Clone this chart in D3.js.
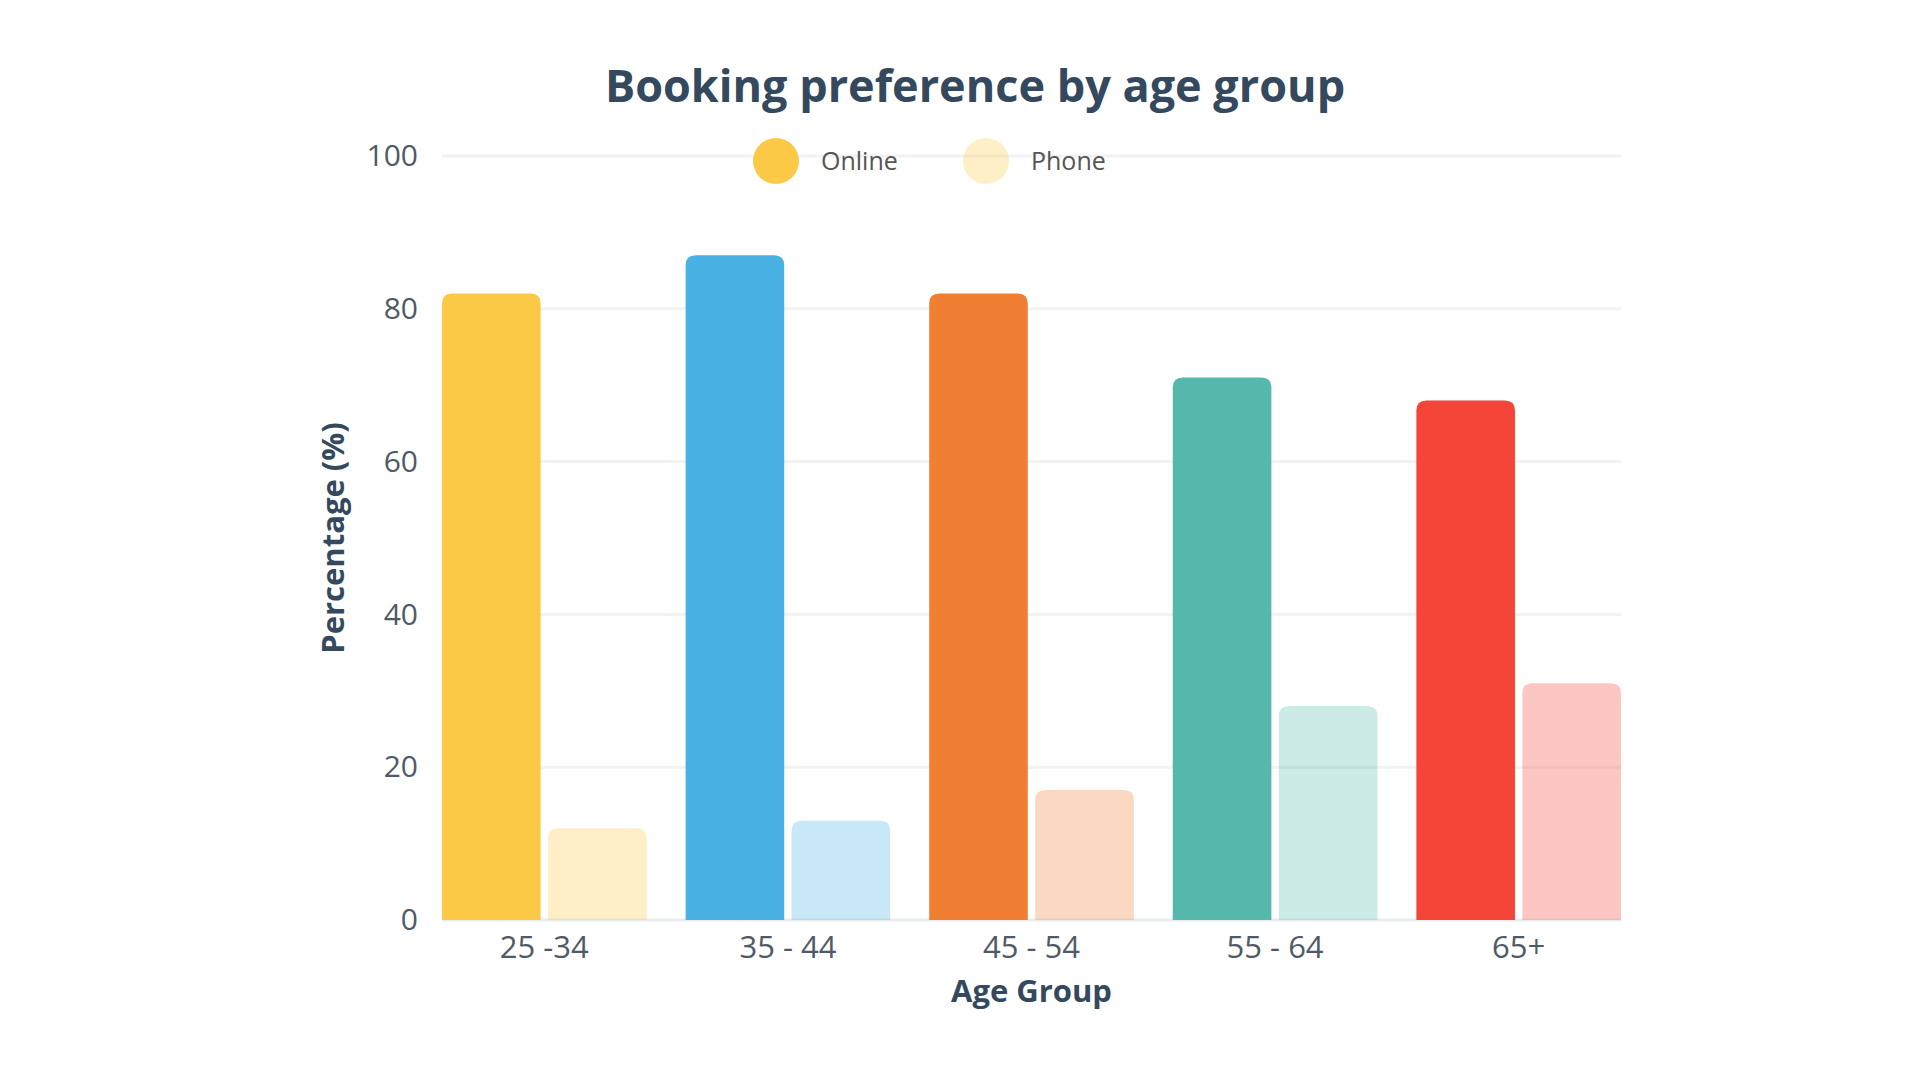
<!DOCTYPE html>
<html>
<head>
<meta charset="utf-8">
<script src="https://cdn.jsdelivr.net/npm/d3@7"></script>
<style>
  html, body { margin: 0; padding: 0; background: #fff; }
  svg { display: block; font-family: "Open Sans", Lato, sans-serif; }
</style>
</head>
<body>
<svg id="chart"></svg>
<script>
// chart data
const ageGroups = ["25 -34", "35 - 44", "45 - 54", "55 - 64", "65+"];
const seriesNames = ["Online", "Phone"];
const onlineValues = [82, 87, 82, 71, 68];
const phoneValues = [12, 13, 17, 28, 31];
const yTicks = [0, 20, 40, 60, 80, 100];
const groupColors = ["#fcc946", "#4ab1e4", "#f07f34", "#56b8ad", "#f44538"];

const width = 1920;
const height = 1080;
const margin = { top: 156, right: 299, bottom: 160, left: 442 };

const svg = d3.select("#chart")
  .attr("width", width)
  .attr("height", height)
  .attr("viewBox", `0 0 ${width} ${height}`);

const rows = ageGroups.map((g, i) => ({
  group: g,
  color: groupColors[i],
  Online: onlineValues[i],
  Phone: phoneValues[i]
}));

const x0 = d3.scaleBand()
  .domain(ageGroups)
  .range([margin.left, width - margin.right])
  .paddingInner(0.16)
  .paddingOuter(0);

const x1 = d3.scaleBand()
  .domain(seriesNames)
  .range([0, x0.bandwidth()])
  .paddingInner(0.07);

const y = d3.scaleLinear()
  .domain([0, 100])
  .range([height - margin.bottom, margin.top]);

// gridlines
svg.append("g")
  .selectAll("line")
  .data(yTicks)
  .join("line")
  .attr("x1", margin.left)
  .attr("x2", width - margin.right)
  .attr("y1", d => y(d))
  .attr("y2", d => y(d))
  .attr("stroke", d => d === 0 ? "#e8edf2" : "#f1f2f4")
  .attr("stroke-width", 3);

// y axis labels
const yAxis = svg.append("g")
  .attr("transform", `translate(${margin.left - 24},0)`)
  .call(d3.axisLeft(y).tickValues(yTicks).tickSize(0).tickPadding(0));
yAxis.select(".domain").remove();
yAxis.selectAll("text")
  .attr("font-size", 30)
  .attr("fill", "#4f5a66")
  .attr("font-family", "'Open Sans', sans-serif");

// x axis labels
const xAxis = svg.append("g")
  .attr("transform", `translate(0,${height - margin.bottom + 16})`)
  .call(d3.axisBottom(x0).tickSize(0).tickPadding(0));
xAxis.select(".domain").remove();
xAxis.selectAll("text")
  .attr("font-size", 31)
  .attr("fill", "#4f5a66")
  .attr("font-family", "'Open Sans', sans-serif");

// bar with rounded top corners
function topRounded(x, yTop, w, h, r) {
  r = Math.min(r, h, w / 2);
  return `M${x},${yTop + h}V${yTop + r}Q${x},${yTop} ${x + r},${yTop}` +
    `H${x + w - r}Q${x + w},${yTop} ${x + w},${yTop + r}V${yTop + h}Z`;
}

const groups = svg.append("g")
  .selectAll("g")
  .data(rows)
  .join("g")
  .attr("transform", d => `translate(${x0(d.group)},0)`);

groups.selectAll("path")
  .data(d => seriesNames.map(s => ({ key: s, value: d[s], color: d.color })))
  .join("path")
  .attr("d", d => topRounded(x1(d.key), y(d.value), x1.bandwidth(), y(0) - y(d.value), 10))
  .attr("fill", d => d.color)
  .attr("fill-opacity", d => d.key === "Online" ? 1 : 0.3);

// title
svg.append("text")
  .attr("x", 975)
  .attr("y", 102)
  .attr("text-anchor", "middle")
  .attr("font-size", 45)
  .attr("font-weight", "bold")
  .attr("fill", "#34495e")
  .text("Booking preference by age group");

// legend
const legendX = [776, 986];
const legend = svg.append("g")
  .selectAll("g")
  .data(seriesNames)
  .join("g")
  .attr("transform", (d, i) => `translate(${legendX[i]},161)`);
legend.append("circle")
  .attr("r", 23)
  .attr("fill", groupColors[0])
  .attr("fill-opacity", d => d === "Online" ? 1 : 0.3);
legend.append("text")
  .attr("x", 45)
  .attr("dy", "0.35em")
  .attr("font-size", 25)
  .attr("fill", "#555")
  .text(d => d);

// axis titles
svg.append("text")
  .attr("x", (margin.left + width - margin.right) / 2)
  .attr("y", 1002)
  .attr("text-anchor", "middle")
  .attr("font-size", 31)
  .attr("font-weight", "bold")
  .attr("fill", "#34495e")
  .text("Age Group");

svg.append("text")
  .attr("transform", `translate(344,${(y(0) + y(100)) / 2}) rotate(-90)`)
  .attr("text-anchor", "middle")
  .attr("font-size", 31)
  .attr("font-weight", "bold")
  .attr("fill", "#34495e")
  .text("Percentage (%)");
</script>
</body>
</html>
